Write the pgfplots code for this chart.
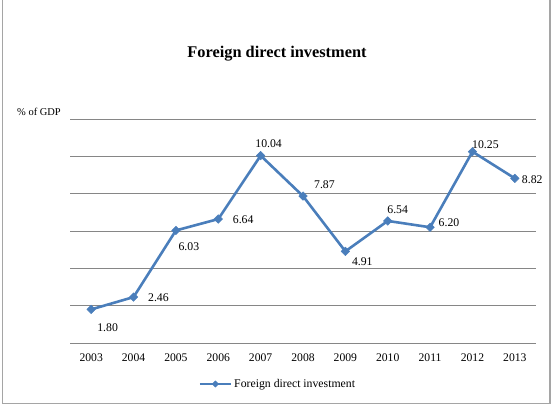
\documentclass[border=0pt]{standalone}
\usepackage{pgfplots}
\pgfplotsset{compat=1.18}
\usepackage{pgfplotstable}
\usepackage{fontspec}
\setmainfont{Liberation Serif}

\definecolor{fdiblue}{RGB}{74,126,187}
\definecolor{gridgray}{RGB}{134,134,134}
\definecolor{framegray}{RGB}{165,165,165}

% year index, FDI inflow (% of GDP), label offset from the point (pt)
\pgfplotstableread{
x   y      dx    dy
0   1.80   16.5  -18
1   2.46   25    -1
2   6.03   13    -16
3   6.64   25    -1
4   10.04  8     12
5   7.87   21.5  11
6   4.91   17    -10
7   6.54   10    11
8   6.20   19    5
9   10.25  13    7
10  8.82   17.5  -1
}\fdidata

\begin{document}
\begin{tikzpicture}[x=1bp,y=1bp]
\useasboundingbox (0,0) rectangle (557,408);
% chart frame
\draw[framegray,line width=1.5bp] (2.5,410) -- (2.5,4.5) -- (550,4.5) -- (550,410);
% title and unit
\node[font=\fontsize{16.4}{19}\selectfont\bfseries] at (277,354) {Foreign direct investment};
\node[font=\fontsize{10.5}{12}\selectfont] at (39,296) {\% of GDP};
\begin{axis}[
  at={(70bp,65bp)}, anchor=south west,
  scale only axis, width=466bp, height=224bp,
  xmin=-0.5, xmax=10.5, ymin=0, ymax=12,
  axis line style={draw=none},
  major tick length=0pt,
  ytick={0,2,...,12}, yticklabels={},
  ymajorgrids, grid style={gridgray, line width=1bp},
  xtick={0,...,10},
  xticklabels={2003,2004,2005,2006,2007,2008,2009,2010,2011,2012,2013},
  xticklabel style={font=\fontsize{11.7}{14}\selectfont, yshift=-7bp},
  /pgf/number format/assume math mode=true,
  clip=false,
  legend style={at={(0.446,-0.183)}, anchor=center, draw=none,
    font=\fontsize{11.8}{14}\selectfont, inner sep=1bp},
  legend image code/.code={
    \draw[mark repeat=2, mark phase=2, mark size=2.2bp]
      plot coordinates {(0bp,0bp) (15.5bp,0bp) (31bp,0bp)};},
]
\addplot[
  color=fdiblue, line width=2.6bp,
  mark=square*, mark size=3bp,
  mark options={rotate=45, fill=fdiblue, draw=fdiblue, line width=0.5bp},
  point meta=\thisrow{y},
  visualization depends on={\thisrow{dx} \as \dx},
  visualization depends on={\thisrow{dy} \as \dy},
  nodes near coords={\pgfmathprintnumber[fixed,fixed zerofill,precision=2]{\pgfplotspointmeta}},
  nodes near coords style={anchor=center, xshift=\dx, yshift=\dy,
    text=black, font=\fontsize{11.8}{14}\selectfont, inner sep=0pt},
] table[x=x, y=y] {\fdidata};
\addlegendentry{Foreign direct investment}
\end{axis}
\end{tikzpicture}
\end{document}
